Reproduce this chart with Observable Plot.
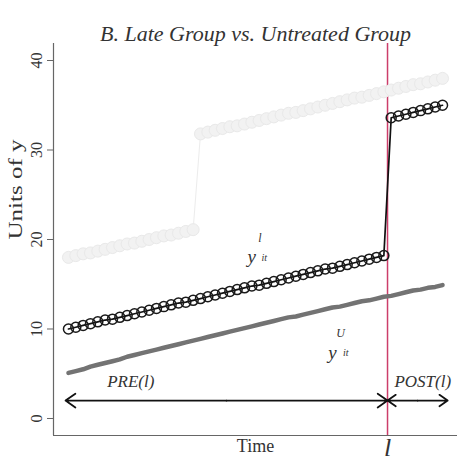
<!DOCTYPE html>
<html>
<head>
<meta charset="utf-8">
<script src="https://cdn.jsdelivr.net/npm/d3@7"></script>
<script src="https://cdn.jsdelivr.net/npm/@observablehq/plot@0.6"></script>
<style>
html, body { margin: 0; padding: 0; background: #fff; }
</style>
</head>
<body>
<div id="chart"></div>
<script>
// ---- data ----
const periods = [1,2,3,4,5,6,7,8,9,10,11,12,13,14,15,16,17,18,19,20,21,22,23,24,25,26,
  27,28,29,30,31,32,33,34,35,36,37,38,39,40,41,42,43,44,45,46,47,48,49,50,51,52];

// late-treated group (black circles)
const lateGroup = [10.0,10.2,10.4,10.6,10.8,11.0,11.1,11.3,11.5,11.7,11.9,12.1,12.3,12.5,12.7,12.9,
  13.0,13.2,13.4,13.6,13.8,14.0,14.2,14.4,14.6,14.8,14.9,15.1,15.3,15.5,15.7,15.9,16.1,16.3,16.5,
  16.7,16.8,17.0,17.2,17.4,17.6,17.8,18.0,18.2,
  33.6,33.8,34.0,34.2,34.4,34.6,34.8,35.0];

// early-treated group (faded light grey)
const earlyGroup = [18.0,18.2,18.4,18.5,18.7,18.9,19.1,19.3,19.5,19.6,19.8,20.0,20.2,20.4,20.5,20.7,20.9,21.1,
  31.8,32.0,32.2,32.4,32.6,32.7,32.9,33.1,33.3,33.5,33.7,33.9,34.1,34.2,34.4,34.6,34.8,35.0,35.2,
  35.4,35.6,35.8,35.9,36.1,36.3,36.5,36.7,36.9,37.1,37.3,37.4,37.6,37.8,38.0];

// untreated group (dark grey line)
const untreated = [5.1,5.3,5.5,5.8,6.0,6.2,6.4,6.6,6.9,7.1,7.3,7.5,7.7,7.9,8.1,8.3,8.5,8.7,8.9,9.1,
  9.3,9.5,9.7,9.9,10.1,10.3,10.5,10.7,10.9,11.1,11.3,11.4,11.6,11.8,12.0,12.2,12.4,12.5,12.7,12.9,
  13.1,13.2,13.4,13.6,13.7,13.9,14.1,14.3,14.4,14.6,14.7,14.9];

const treatmentTime = 44.5;          // the "l" line
const yTicks = [0, 10, 20, 30, 40];
const yTickLabels = ["0", "10", "20", "30", "40"];

const titleText = "B. Late Group vs. Untreated Group";
const yLabelText = "Units of y";
const xLabelText = "Time";
const treatmentLabel = "l";

// PRE / POST spans (double arrows) and their labels
const spanNames = ["PRE(l)", "POST(l)"];
const spanStart = [0.6, 44.5];
const spanEnd = [44.5, 52.7];
const spanLevel = 2.0;
const spanLabelT = [9.5, 49.3];
const spanLabelV = 4.1;

// series annotations y^l_it and y^U_it
const annotBase = [{text: "y", t: 26.0, v: 18.1}, {text: "y", t: 37.0, v: 7.3}];
const annotSup  = [{text: "l", t: 27.1, v: 20.1}, {text: "U", t: 38.1, v: 9.5}];
const annotSub  = [{text: "it", t: 27.7, v: 18.0}, {text: "it", t: 38.8, v: 7.3}];

// ---- build tables ----
const rows = periods.map((t, i) => ({t, late: lateGroup[i], early: earlyGroup[i], untreated: untreated[i]}));
const arrows = [];
spanNames.forEach((n, i) => {
  const mid = (spanStart[i] + spanEnd[i]) / 2;
  arrows.push({x1: mid, x2: spanStart[i], y: spanLevel});
  arrows.push({x1: mid, x2: spanEnd[i], y: spanLevel});
});
const spanLabels = spanNames.map((n, i) => ({text: n, t: spanLabelT[i], v: spanLabelV}));
const ticks = yTicks.map((v, i) => ({v, label: yTickLabels[i]}));

const xDomain = [-1.04, 54.04];
const yDomain = [-1.9, 41.9];

const plot = Plot.plot({
  width: 462,
  height: 469,
  marginLeft: 53,
  marginRight: 5,
  marginTop: 43,
  marginBottom: 34,
  x: {domain: xDomain, axis: null},
  y: {domain: yDomain, axis: null},
  style: {fontFamily: "'Liberation Serif', 'DejaVu Serif', serif", background: "#fff", color: "#333"},
  marks: [
    // L-shaped frame
    Plot.ruleX([xDomain[0]], {y1: yDomain[0], y2: yDomain[1], stroke: "#666", strokeWidth: 1.2}),
    Plot.ruleY([yDomain[0]], {x1: xDomain[0], x2: xDomain[1], stroke: "#666", strokeWidth: 1.2}),
    // y ticks
    Plot.axisY(yTicks, {tickSize: 6, tickFormat: () => "", label: null, stroke: "#666"}),
    Plot.text(ticks, {x: xDomain[0], y: "v", text: "label", rotate: -90, dx: -12,
      lineAnchor: "bottom", textAnchor: "middle", fontSize: 16, fill: "#333"}),
    // treatment time line
    Plot.ruleX([treatmentTime], {y1: yDomain[0], y2: yDomain[1], stroke: "#cc3d6a", strokeWidth: 1.5}),
    // untreated group
    Plot.line(rows, {x: "t", y: "untreated", stroke: "#737373", strokeWidth: 4.5}),
    // late group
    Plot.line(rows, {x: "t", y: "late", stroke: "#111", strokeWidth: 1.7}),
    Plot.dot(rows, {x: "t", y: "late", r: 5, stroke: "#1a1a1a", strokeWidth: 1.5, fill: "none"}),
    // early group (faded)
    Plot.line(rows, {x: "t", y: "early", stroke: "#ececec", strokeWidth: 1}),
    Plot.dot(rows, {x: "t", y: "early", r: 6, fill: "#f2f2f2", stroke: "#e9e9e9", strokeWidth: 1}),
    // PRE / POST arrows
    Plot.arrow(arrows, {x1: "x1", x2: "x2", y1: "y", y2: "y", stroke: "#111", strokeWidth: 1.8,
      headLength: 10, headAngle: 70}),
    Plot.text(spanLabels, {x: "t", y: "v", text: "text", fontSize: 17, fontStyle: "italic", fill: "#333"}),
    // annotations
    Plot.text(annotBase, {x: "t", y: "v", text: "text", fontSize: 19, fontStyle: "italic", fill: "#333"}),
    Plot.text(annotSup, {x: "t", y: "v", text: "text", fontSize: 12, fontStyle: "italic", fill: "#333"}),
    Plot.text(annotSub, {x: "t", y: "v", text: "text", fontSize: 10, fontStyle: "italic", fill: "#333"}),
    // title and axis labels
    Plot.text([titleText], {frameAnchor: "top", dy: -18, fontSize: 22, fontStyle: "italic", fill: "#333"}),
    Plot.text([xLabelText], {frameAnchor: "bottom", dy: 16, fontSize: 18, fill: "#333"}),
    Plot.text([treatmentLabel], {x: () => treatmentTime, frameAnchor: "bottom", dy: 20, fontSize: 26, fontStyle: "italic", fill: "#333"}),
    Plot.text([yLabelText], {frameAnchor: "left", dx: -38, rotate: -90, fontSize: 19, fill: "#333"})
  ]
});

document.getElementById("chart").appendChild(plot);

// stretch the rotated y label to the length it has in the reference
d3.select(plot).selectAll("text").filter(function() { return this.textContent === yLabelText; })
  .attr("textLength", 100).attr("lengthAdjust", "spacingAndGlyphs");
</script>
</body>
</html>
